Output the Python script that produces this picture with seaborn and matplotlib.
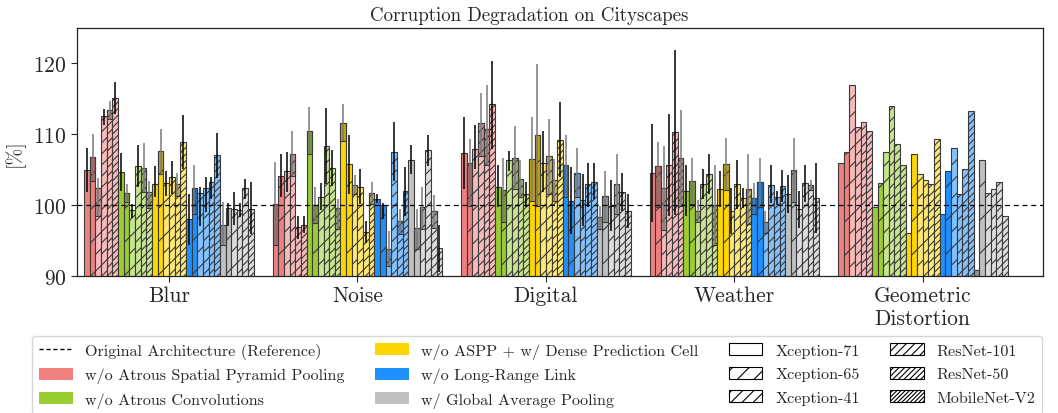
import matplotlib
matplotlib.use("Agg")
import matplotlib.pyplot as plt
from matplotlib.patches import Patch
from matplotlib.lines import Line2D
from matplotlib.colors import to_rgb
import numpy as np
import pandas as pd
import seaborn as sns

# ---------------------------------------------------------------- data
categories = ["Blur", "Noise", "Digital", "Weather", "Geometric\nDistortion"]
backbones = ["Xception-71", "Xception-65", "Xception-41",
             "ResNet-101", "ResNet-50", "MobileNet-V2"]
ablations = ["w/o Atrous Spatial Pyramid Pooling",
             "w/o Atrous Convolutions",
             "w/o ASPP + w/ Dense Prediction Cell",
             "w/o Long-Range Link",
             "w/ Global Average Pooling"]

# rows: corruption category, columns: backbone
no_aspp = [[104.9, 106.8, 102.4, 112.6, 113.4, 115.1],
           [100.2, 104.1, 104.8, 107.2, 96.9, 97.2],
           [107.4, 106.0, 107.9, 111.6, 110.7, 114.3],
           [104.6, 105.5, 102.4, 105.6, 110.3, 106.6],
           [105.9, 107.5, 116.9, 111.0, 111.8, 110.5]]
no_aspp_low = [[101.8, 103.4, 98.4, 111.3, 112.1, 112.8],
               [94.3, 101.1, 101.8, 104.1, 95.2, 96.0],
               [102.3, 99.9, 105.1, 107.0, 105.6, 107.9],
               [97.6, 99.7, 96.5, 98.5, 98.6, 99.9],
               None]
no_aspp_high = [[108.0, 110.1, 103.8, 113.6, 114.7, 117.4],
                [106.1, 107.2, 107.5, 110.4, 98.5, 98.4],
                [112.5, 109.3, 111.3, 115.8, 116.9, 120.4],
                [111.5, 108.9, 108.3, 112.9, 121.9, 113.4],
                None]

no_atrous = [[104.7, 101.7, 99.3, 105.5, 105.2, 101.8],
             [110.5, 100.0, 101.2, 108.3, 105.3, 99.6],
             [102.5, 102.1, 106.3, 106.7, 103.7, 101.5],
             [102.0, 103.4, 99.2, 103.0, 104.4, 100.0],
             [99.7, 103.1, 107.5, 114.0, 108.6, 105.7]]
no_atrous_low = [[102.0, 100.4, 98.2, 102.5, 101.8, 99.6],
                 [107.2, 97.5, 99.3, 103.0, 102.7, 96.6],
                 [99.7, 97.6, 104.8, 102.3, 101.1, 99.7],
                 [98.4, 100.1, 97.6, 100.8, 101.6, 94.4],
                 None]
no_atrous_high = [[107.3, 103.0, 100.1, 108.5, 108.7, 103.4],
                  [113.8, 102.6, 103.1, 113.7, 107.8, 100.9],
                  [105.6, 106.6, 107.7, 111.1, 106.4, 103.2],
                  [105.7, 106.6, 100.7, 105.1, 107.2, 105.6],
                  None]

dense_cell = [[103.0, 107.6, 103.1, 104.0, 103.0, 108.9],
              [111.6, 105.8, 102.9, 102.6, 96.2, 101.7],
              [106.5, 109.9, 106.0, 106.9, 103.5, 109.2],
              [102.3, 105.8, 99.1, 103.0, 101.0, 102.3],
              [96.0, 107.2, 104.4, 103.5, 103.0, 109.4]]
dense_cell_low = [[101.1, 104.4, 101.3, 101.5, 101.3, 105.1],
                  [109.0, 101.6, 101.6, 100.1, 94.6, 100.1],
                  [100.6, 99.9, 101.8, 101.6, 100.6, 103.9],
                  [99.7, 102.2, 95.9, 99.5, 99.6, 97.3],
                  None]
dense_cell_high = [[105.5, 110.8, 104.8, 106.2, 104.6, 112.7],
                   [114.3, 109.9, 104.2, 105.1, 97.7, 103.2],
                   [112.4, 119.9, 110.4, 112.2, 106.5, 114.6],
                   [104.8, 109.5, 102.4, 106.4, 102.4, 107.2],
                   None]

no_long_range = [[98.0, 102.4, 101.7, 102.4, 103.2, 107.1],
                 [100.9, 100.0, 93.8, 107.5, 97.7, 102.0],
                 [105.6, 100.6, 104.6, 100.7, 103.0, 103.3],
                 [101.0, 103.2, 97.6, 102.9, 101.1, 102.7],
                 [98.7, 104.8, 108.0, 101.5, 105.1, 113.3]]
no_long_range_low = [[94.4, 98.7, 97.1, 99.0, 100.8, 103.8],
                     [100.3, 98.0, 91.4, 103.4, 95.9, 98.5],
                     [101.1, 95.9, 101.1, 97.1, 99.7, 100.8],
                     [98.8, 99.8, 96.1, 100.3, 100.0, 100.4],
                     None]
no_long_range_high = [[101.5, 105.6, 102.6, 103.9, 103.9, 110.2],
                      [101.5, 100.3, 96.3, 111.7, 99.4, 105.4],
                      [109.9, 105.4, 108.1, 104.4, 106.0, 105.9],
                      [103.1, 106.6, 99.1, 105.6, 102.0, 104.9],
                      None]

global_pool = [[97.2, 99.6, 99.5, 99.3, 102.4, 99.5],
               [106.4, 96.8, 99.7, 107.8, 99.1, 93.9],
               [98.3, 101.3, 99.9, 103.0, 101.9, 99.2],
               [101.6, 104.9, 99.4, 103.1, 102.9, 101.0],
               [90.8, 106.4, 101.7, 102.3, 103.2, 98.4]]
global_pool_low = [[94.3, 97.1, 97.2, 98.3, 100.9, 95.9],
                   [104.4, 93.8, 96.6, 105.5, 96.8, 90.5],
                   [96.6, 97.6, 96.3, 98.7, 99.2, 96.8],
                   [98.9, 100.4, 96.8, 100.4, 102.2, 96.0],
                   None]
global_pool_high = [[100.4, 100.3, 101.8, 100.3, 103.7, 103.2],
                    [108.5, 99.5, 102.6, 109.9, 101.4, 97.2],
                    [99.9, 104.8, 103.5, 107.2, 104.6, 101.6],
                    [104.2, 109.5, 102.0, 105.7, 103.6, 105.9],
                    None]

reference_level = 100

# ---------------------------------------------------------------- styling
base_colors = ["lightcoral", "yellowgreen", "gold", "dodgerblue", "silver"]
hatches = ["", "/", "//", "///", "////", "/////"]
legend_hatches = ["", "//", "///", "////", "//////", "////////"]

# bars that get a darker band between their lower bound and their top
shade_aspp = [[0, 1, 1, 0, 1, 0], [1, 0, 0, 1, 0, 0], [0, 1, 0, 1, 1, 0],
              [0, 1, 1, 0, 0, 1], [0, 0, 0, 0, 0, 0]]
shade_atrous = [[0, 1, 0, 0, 1, 1], [1, 1, 0, 0, 0, 1], [0, 1, 0, 1, 1, 0],
                [0, 1, 1, 0, 0, 1], [0, 0, 0, 0, 0, 0]]
shade_dense = [[0, 1, 0, 0, 1, 0], [1, 0, 1, 0, 0, 1], [1, 1, 0, 1, 1, 0],
               [0, 1, 0, 0, 0, 1], [0, 0, 0, 0, 0, 0]]
shade_long = [[0, 1, 0, 0, 0, 0], [0, 0, 1, 0, 1, 0], [1, 0, 1, 0, 0, 0],
              [1, 1, 1, 0, 0, 0], [0, 0, 0, 0, 0, 0]]
shade_pool = [[1, 0, 0, 0, 0, 0], [0, 1, 1, 0, 1, 0], [1, 1, 0, 1, 0, 0],
              [0, 1, 0, 0, 1, 0], [1, 0, 0, 0, 0, 0]]

values = [no_aspp, no_atrous, dense_cell, no_long_range, global_pool]
lows = [no_aspp_low, no_atrous_low, dense_cell_low, no_long_range_low, global_pool_low]
highs = [no_aspp_high, no_atrous_high, dense_cell_high, no_long_range_high, global_pool_high]
shades = [shade_aspp, shade_atrous, shade_dense, shade_long, shade_pool]


def fill_color(name, b_i):
    rgb = np.array(to_rgb(name))
    if b_i >= 2:
        rgb = rgb * 0.55 + 0.45
    return tuple(rgb)


def darker(rgb, f=0.76):
    return tuple(np.array(rgb) * f)


sns.set_style("ticks")
plt.rcParams["font.family"] = ["cmr10", "DejaVu Serif"]
plt.rcParams["axes.formatter.use_mathtext"] = True
plt.rcParams["mathtext.fontset"] = "cm"
plt.rcParams["hatch.linewidth"] = 0.8
plt.rcParams["axes.unicode_minus"] = False

combos = [f"{ab}|{bb}" for ab in ablations for bb in backbones]
rows = []
for a_i, ab in enumerate(ablations):
    for c_i, cat in enumerate(categories):
        for b_i, bb in enumerate(backbones):
            rows.append({"category": cat, "combo": f"{ab}|{bb}",
                         "value": values[a_i][c_i][b_i]})
df = pd.DataFrame(rows)
palette = {f"{ab}|{bb}": fill_color(base_colors[a_i], b_i)
           for a_i, ab in enumerate(ablations)
           for b_i, bb in enumerate(backbones)}

fig = plt.figure(figsize=(10.58, 4.14), dpi=100)
ax = fig.add_axes([0.0728, 0.331, 0.9130, 0.599])

sns.barplot(data=df, x="category", y="value", hue="combo",
            order=categories, hue_order=combos, palette=palette,
            width=0.9, saturation=1, errorbar=None, legend=False, ax=ax)

edge = "#3a3a3a"
bar_groups = list(ax.containers)
for k, cont in enumerate(bar_groups):
    a_i, b_i = divmod(k, len(backbones))
    bars = sorted(cont.patches, key=lambda p: p.get_x())
    for c_i, patch in enumerate(bars):
        patch.set_edgecolor(edge)
        patch.set_linewidth(0.8)
        patch.set_hatch(hatches[b_i])
        xc = patch.get_x() + patch.get_width() / 2
        w = patch.get_width()
        top = values[a_i][c_i][b_i]
        lo_row = lows[a_i][c_i]
        hi_row = highs[a_i][c_i]
        shaded = shades[a_i][c_i][b_i]
        if shaded:
            bottom = 90 if lo_row is None else max(90, lo_row[b_i])
            if top > bottom:
                ax.bar(xc, top - bottom, bottom=bottom, width=w,
                       color=darker(patch.get_facecolor()[:3]),
                       edgecolor=edge, linewidth=0.8, hatch=hatches[b_i],
                       zorder=patch.get_zorder() + 0.1)
        if lo_row is not None:
            ax.vlines(xc, lo_row[b_i], hi_row[b_i],
                      color="#7a7a7a" if shaded else "black",
                      linewidth=1.1, zorder=5)

ax.axhline(reference_level, color="black", linestyle="--", linewidth=0.9,
           dashes=(4, 3), zorder=6)

ax.set_ylim(90, 125)
ax.set_xlim(-0.488, 4.638)
ax.set_yticks([90, 100, 110, 120])
ax.set_xlabel("")
ax.set_ylabel("[%]", fontsize=14.5, labelpad=6)
fig.suptitle("Corruption Degradation on Cityscapes", x=0.5, y=0.962,
             va="center", fontsize=13.6)
ax.tick_params(axis="both", labelsize=15.5, length=4, width=0.8)
ax.tick_params(axis="x", pad=3)
for s in ax.spines.values():
    s.set_linewidth(0.9)
    s.set_color("#222222")

handles = [Line2D([0], [0], color="black", linestyle="--", linewidth=1.0,
                  dashes=(3, 2))]
labels = ["Original Architecture (Reference)"]
for a_i, ab in enumerate(ablations):
    handles.append(Patch(facecolor=base_colors[a_i], edgecolor="none"))
    labels.append(ab)
for b_i, bb in enumerate(backbones):
    handles.append(Patch(facecolor="white", edgecolor="black",
                         linewidth=0.8, hatch=legend_hatches[b_i]))
    labels.append(bb)

fig.legend(handles, labels, ncol=4, loc="upper left",
           bbox_to_anchor=(0.0302, 0.186), borderaxespad=0.0, fontsize=11.6,
           handlelength=2.1, handleheight=0.75, handletextpad=0.8,
           columnspacing=1.85, labelspacing=0.56, borderpad=0.42,
           frameon=True, edgecolor="#cccccc", fancybox=True)

fig.savefig("out.png", dpi=100)
